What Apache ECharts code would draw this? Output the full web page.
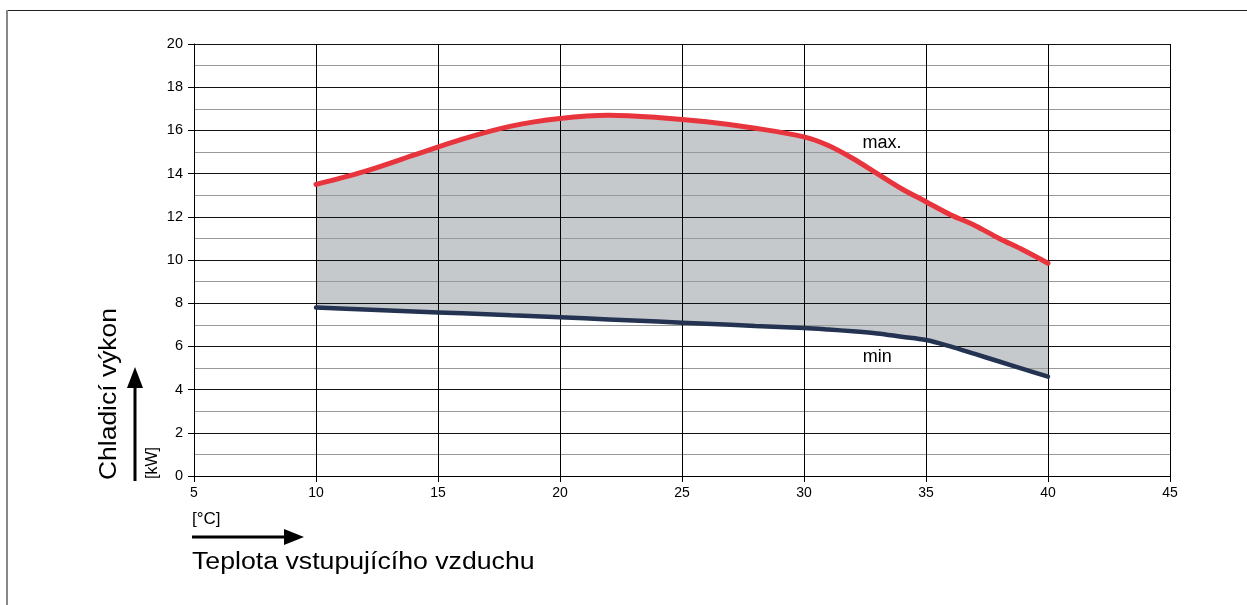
<!DOCTYPE html>
<html>
<head>
<meta charset="utf-8">
<script src="https://cdn.jsdelivr.net/npm/echarts@6/dist/echarts.min.js"></script>
<style>
html,body{margin:0;padding:0;background:#fff;}
#c{width:1247px;height:605px;}
</style>
</head>
<body>
<div id="c"></div>
<script>
// Data
const temps = [10,12,14,16,18,20,22,24,26,28,30,31,32,33,34,35,36,37,38,39,40];
const maxVals = [13.5,14.1,14.85,15.6,16.2,16.55,16.7,16.6,16.4,16.1,15.7,15.3,14.7,14.0,13.3,12.7,12.1,11.6,11.0,10.45,9.85];
const minVals = [7.8,7.71,7.62,7.53,7.44,7.35,7.25,7.15,7.05,6.95,6.85,6.78,6.7,6.6,6.45,6.3,6.0,5.65,5.3,4.95,4.6];
const xTicks = [5,10,15,20,25,30,35,40,45];
const yTicks = [0,2,4,6,8,10,12,14,16,18,20];
const xTitle = 'Teplota vstupujícího vzduchu';
const xUnit = '[°C]';
const yTitle = 'Chladicí výkon';
const yUnit = '[kW]';
const curveLabels = [{name:'max.', x:33.2, y:15.4},{name:'min', x:33.0, y:5.5}];

const FONT = '"Liberation Sans", Arial, sans-serif';
const pairs = a => temps.map((t,i)=>[t,a[i]]);

const chart = echarts.init(document.getElementById('c'), null, {renderer:'canvas'});
const SM = 0.35;
const labelPoint = l => ({
  coord:[l.x,l.y], symbol:'circle', symbolSize:1, itemStyle:{color:'rgba(0,0,0,0)'},
  label:{show:true,position:'inside',formatter:l.name,color:'#000',fontSize:18,fontFamily:FONT}
});
chart.setOption({
  animation:false,
  backgroundColor:'#fff',
  grid:{left:194,right:77,top:44,bottom:129,containLabel:false},
  xAxis:{
    type:'value', min:xTicks[0], max:xTicks[xTicks.length-1], interval:5, z:3,
    axisLine:{show:true,onZero:false,lineStyle:{color:'#000',width:1}},
    axisTick:{show:true,inside:false,length:6,lineStyle:{color:'#000'}},
    axisLabel:{color:'#000',fontSize:14,fontFamily:FONT,margin:10},
    splitLine:{show:true,lineStyle:{color:'#000',width:1}}
  },
  yAxis:{
    type:'value', min:yTicks[0], max:yTicks[yTicks.length-1], interval:2, z:3,
    axisLine:{show:true,lineStyle:{color:'#000',width:1}},
    axisTick:{show:true,inside:false,length:6,lineStyle:{color:'#000'}},
    axisLabel:{color:'#000',fontSize:14.5,fontFamily:FONT,margin:11},
    splitLine:{show:true,lineStyle:{color:'#111',width:1}},
    minorTick:{show:false,splitNumber:2},
    minorSplitLine:{show:true,lineStyle:{color:'#999',width:1}}
  },
  series:[
    // gray fill under max curve
    {type:'line',data:pairs(maxVals),smooth:SM,symbol:'none',lineStyle:{opacity:0},areaStyle:{color:'#c6c9cc',opacity:1,origin:'start'},z:1,silent:true},
    // white fill under min curve (grid lines are drawn above it)
    {type:'line',data:pairs(minVals),smooth:SM,symbol:'none',lineStyle:{opacity:0},areaStyle:{color:'#ffffff',opacity:1,origin:'start'},z:1,silent:true},
    {type:'line',data:pairs(maxVals),smooth:SM,symbol:'none',lineStyle:{color:'#e8343c',width:5,cap:'round'},z:5,
      markPoint:{silent:true,data:[labelPoint(curveLabels[0])]}},
    {type:'line',data:pairs(minVals),smooth:SM,symbol:'none',lineStyle:{color:'#243352',width:4.5,cap:'round'},z:5,
      markPoint:{silent:true,data:[labelPoint(curveLabels[1])]}}
  ],
  graphic:[
    {type:'line',shape:{x1:7,y1:10.5,x2:1247,y2:10.5},style:{stroke:'#222',lineWidth:1}},
    {type:'line',shape:{x1:7,y1:10,x2:7,y2:605},style:{stroke:'#888',lineWidth:2}},
    // y title
    {type:'text',x:110,y:480,rotation:Math.PI/2,scaleX:1.15,style:{text:yTitle,font:'23px '+FONT,fill:'#000',textAlign:'left',textVerticalAlign:'middle'}},
    {type:'text',x:153,y:479,rotation:Math.PI/2,style:{text:yUnit,font:'16px '+FONT,fill:'#000',textAlign:'left',textVerticalAlign:'middle'}},
    {type:'line',shape:{x1:135,y1:481,x2:135,y2:385},style:{stroke:'#000',lineWidth:3}},
    {type:'polygon',shape:{points:[[135,367],[127,388],[143,388]]},style:{fill:'#000'}},
    // x title
    {type:'text',x:192,y:563,scaleX:1.16,style:{text:xTitle,font:'23px '+FONT,fill:'#000',textAlign:'left',textVerticalAlign:'middle'}},
    {type:'text',x:192,y:519,style:{text:xUnit,font:'17px '+FONT,fill:'#000',textAlign:'left',textVerticalAlign:'middle'}},
    {type:'line',shape:{x1:192,y1:537,x2:287,y2:537},style:{stroke:'#000',lineWidth:3}},
    {type:'polygon',shape:{points:[[304,537],[284,529],[284,545]]},style:{fill:'#000'}}
  ]
});
</script>
</body>
</html>
